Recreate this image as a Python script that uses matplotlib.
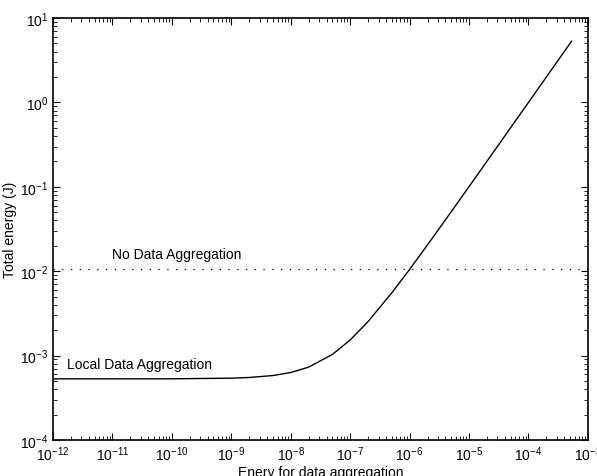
import matplotlib
matplotlib.use('Agg')
import matplotlib.pyplot as plt

plt.rcParams['font.family'] = ['Liberation Sans', 'DejaVu Sans']
plt.rcParams['mathtext.fontset'] = 'custom'
plt.rcParams['mathtext.rm'] = 'Liberation Sans'
plt.rcParams['mathtext.it'] = 'Liberation Sans'

# energy for data aggregation (x) and total energy (y)
local_x = [1e-12, 1e-11, 1e-10, 1e-9, 2e-9, 5e-9, 1e-8, 2e-8, 5e-8, 1e-7,
           2e-7, 5e-7, 1e-6, 2e-6, 5e-6, 1e-5, 2e-5, 5e-5, 1e-4, 2e-4, 5.3e-4]
local_y = [5.3e-4, 5.3e-4, 5.31e-4, 5.4e-4, 5.5e-4, 5.8e-4, 6.3e-4, 7.3e-4,
           1.03e-3, 1.53e-3, 2.53e-3, 5.53e-3, 1.05e-2, 2.05e-2, 5.05e-2,
           0.1005, 0.2005, 0.5, 1.0, 2.0, 5.3]

no_agg_x = [1e-12, 1e-3]
no_agg_y = [1.06e-2, 1.06e-2]

fig = plt.figure(figsize=(5.97, 4.77), dpi=100)
ax = fig.add_axes([0.0888, 0.0755, 0.896, 0.8847])

ax.plot(local_x, local_y, color='black', lw=1.0)
ax.plot(no_agg_x, no_agg_y, color='black', lw=0.9, ls=(0, (1, 6)))

ax.set_xscale('log')
ax.set_yscale('log')
ax.set_xlim(1e-12, 1e-3)
ax.set_ylim(1e-4, 1e1)

ax.text(1.75e-12, 7.9e-4, 'Local Data Aggregation', fontsize=10, va='center')
ax.text(1.0e-11, 1.6e-2, 'No Data Aggregation', fontsize=10, va='center')

ax.set_xlabel('Enery for data aggregation', fontsize=10, labelpad=1)
ax.set_ylabel('Total energy (J)', fontsize=10, labelpad=2)

ax.tick_params(which='both', direction='in', top=True, right=True, labelsize=10)
ax.tick_params(which='major', length=5, width=0.8)
ax.tick_params(which='minor', length=3, width=0.6)
ax.xaxis.set_major_locator(matplotlib.ticker.LogLocator(base=10, numticks=20))
ax.xaxis.set_minor_locator(matplotlib.ticker.LogLocator(base=10, subs=range(2, 10), numticks=20))
ax.xaxis.set_minor_formatter(matplotlib.ticker.NullFormatter())
for s in ax.spines.values():
    s.set_linewidth(1.2)

plt.savefig('out.png', dpi=100)
